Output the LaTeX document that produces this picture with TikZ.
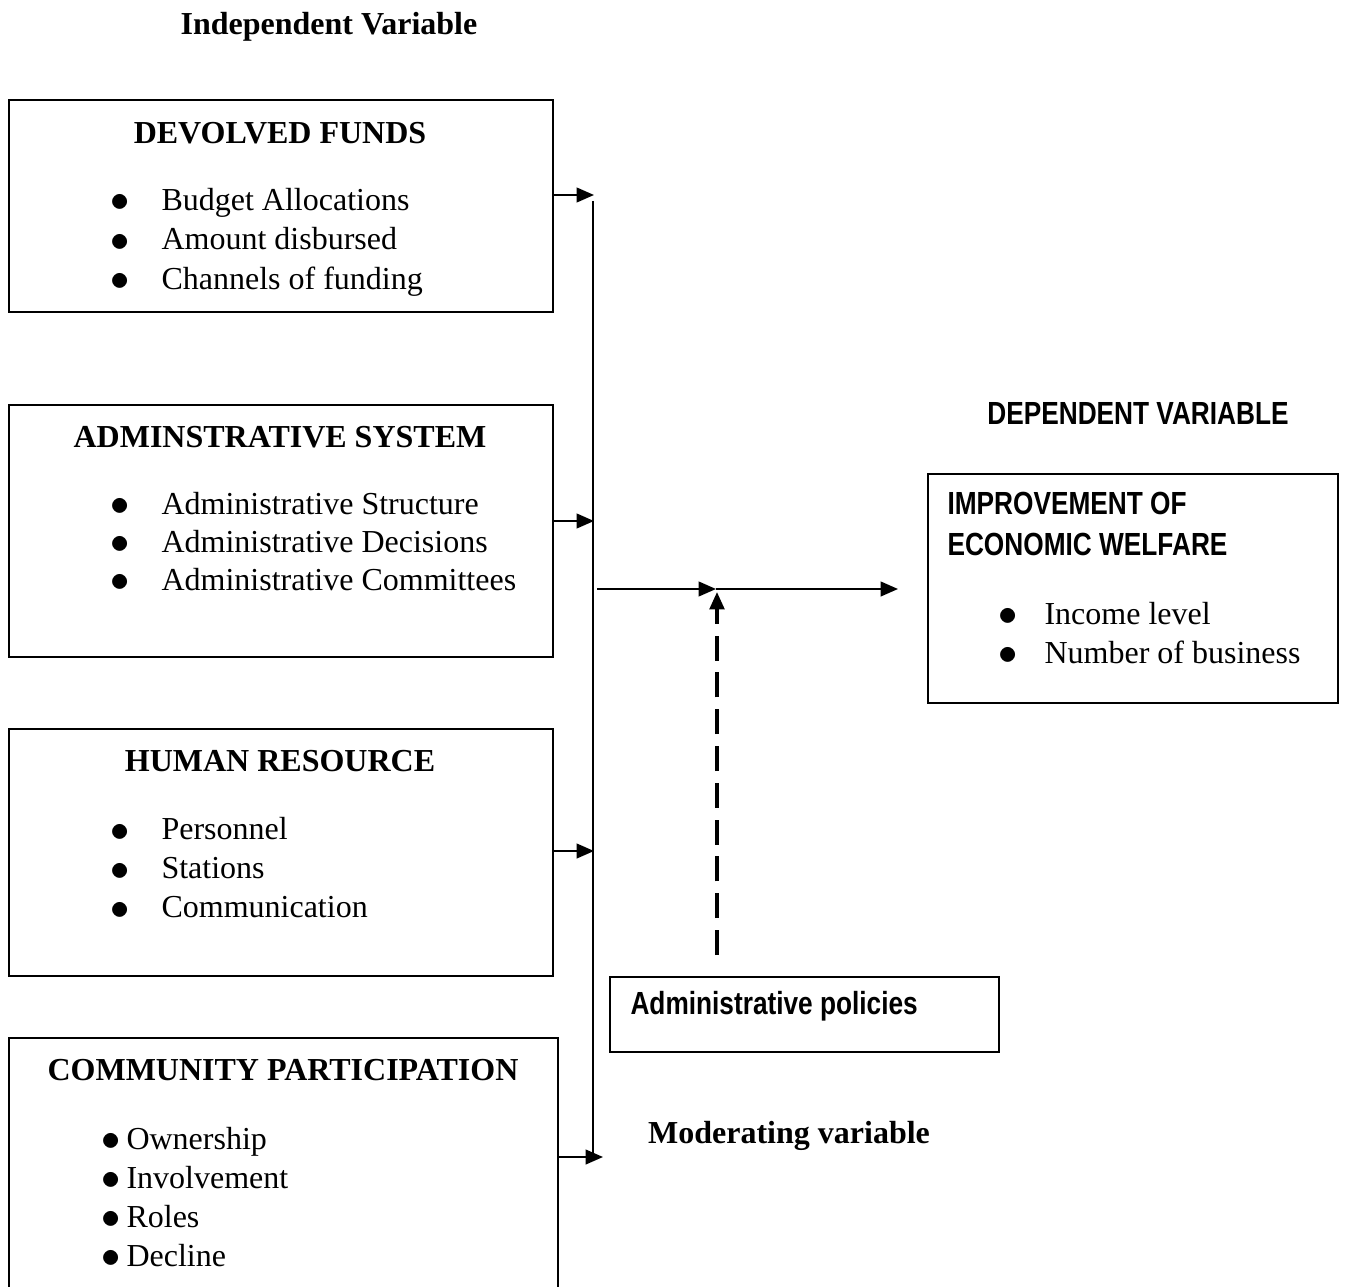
\documentclass[tikz,border=0pt,12pt]{standalone}
\usepackage{fontspec}
\setmainfont{Liberation Serif}
\newfontfamily\narrowsans[FakeStretch=0.82]{Liberation Sans}
\usetikzlibrary{arrows.meta, positioning, calc}

\begin{document}
\begin{tikzpicture}[x=0.375pt, y=-0.375pt,
    box/.style={draw, line width=0.7pt, anchor=north west, inner sep=0pt},
    ttl/.style={font=\bfseries, inner sep=0pt},
    sans/.style={font=\narrowsans\bfseries, inner sep=0pt, anchor=west},
    bul/.style={inner sep=0pt, scale=1.2},
    item/.style={anchor=west, inner sep=0pt, text height=8pt, text depth=2.5pt},
    link/.style={line width=0.75pt},
    arr/.style={line width=0.75pt, -{Triangle[length=6.5pt, width=5.5pt]}},
    modarr/.style={line width=1.2pt, dash pattern=on 9.4pt off 4.4pt, -{Triangle[length=6.5pt, width=5.5pt]}}]
    \clip (0,0) rectangle (1345,1287);

    % independent side
    \node[ttl] (indep) at (329,27) {Independent Variable};

    \node[box, minimum width=204pt, minimum height=79.5pt] (fund) at (8,99) {};
    \node[ttl] (fundt) at (280,133) {DEVOLVED FUNDS};
    \foreach \t [count=\i] in {Budget Allocations, Amount disbursed, Channels of funding} {
        \node[bul] (fundb\i) at (120,{163.5+39.5*\i}) {$\bullet$};
        \node[item] (fundi\i) at (161,{163.5+39.5*\i}) {\t};
    }

    \node[box, minimum width=204pt, minimum height=94.5pt] (admin) at (8,404) {};
    \node[ttl] (admint) at (280,437) {ADMINSTRATIVE SYSTEM};
    \foreach \t [count=\i] in {Administrative Structure, Administrative Decisions, Administrative Committees} {
        \node[bul] (adminb\i) at (120,{469+38*\i}) {$\bullet$};
        \node[item] (admini\i) at (161,{469+38*\i}) {\t};
    }

    \node[box, minimum width=204pt, minimum height=92.6pt] (human) at (8,728) {};
    \node[ttl] (humant) at (280,761) {HUMAN RESOURCE};
    \foreach \t [count=\i] in {Personnel, Stations, Communication} {
        \node[bul] (humanb\i) at (120,{793.5+39*\i}) {$\bullet$};
        \node[item] (humani\i) at (161,{793.5+39*\i}) {\t};
    }

    \node[box, minimum width=206pt, minimum height=100pt] (comm) at (8,1037) {};
    \node[ttl] (commt) at (283,1070) {COMMUNITY PARTICIPATION};
    \foreach \t [count=\i] in {Ownership, Involvement, Roles, Decline} {
        \node[bul] (commb\i) at (111,{1103+39*\i}) {$\bullet$};
        \node[item] (commi\i) at (126,{1103+39*\i}) {\t};
    }

    % dependent side
    \node[sans, anchor=center] (dep) at (1138,413) {DEPENDENT VARIABLE};
    \node[box, minimum width=153.75pt, minimum height=85.9pt] (welfare) at (927,473) {};
    \node[sans] (welft1) at (947,503) {IMPROVEMENT OF};
    \node[sans] (welft2) at (947,544) {ECONOMIC WELFARE};
    \foreach \t [count=\i] in {Income level, Number of business} {
        \node[bul] (welfb\i) at (1008,{578+39*\i}) {$\bullet$};
        \node[item] (welfi\i) at (1044,{578+39*\i}) {\t};
    }

    % moderating
    \node[box, minimum width=145.9pt, minimum height=28.1pt] (policy) at (609,976) {};
    \node[sans] (policyt) at (630,1006) {Administrative policies};
    \node[ttl] (moder) at (789,1136) {Moderating variable};

    % connectors
    \coordinate (bus1) at (594,195);
    \coordinate (bus2) at (594,521);
    \coordinate (bus3) at (594,851);
    \coordinate (bus4) at (603,1157);
    \coordinate (bustop) at (593,201);
    \coordinate (busend) at (593,1157);
    \coordinate (out) at (597,589);
    \coordinate (mod) at (716,589);
    \coordinate (depin) at (898,589);
    \coordinate (modtail) at (717,955);
    \coordinate (modtip) at (717,592);

    \draw[arr] (fund.north east |- bus1) -- (bus1);
    \draw[arr] (admin.north east |- bus2) -- (bus2);
    \draw[arr] (human.north east |- bus3) -- (bus3);
    \draw[arr] (comm.north east |- bus4) -- (bus4);
    \draw[link] (bustop) -- (busend);
    \draw[arr] (out) -- (mod);
    \draw[arr] (mod) -- (depin);
    \draw[modarr] (modtail) -- (modtip);
\end{tikzpicture}
\end{document}
